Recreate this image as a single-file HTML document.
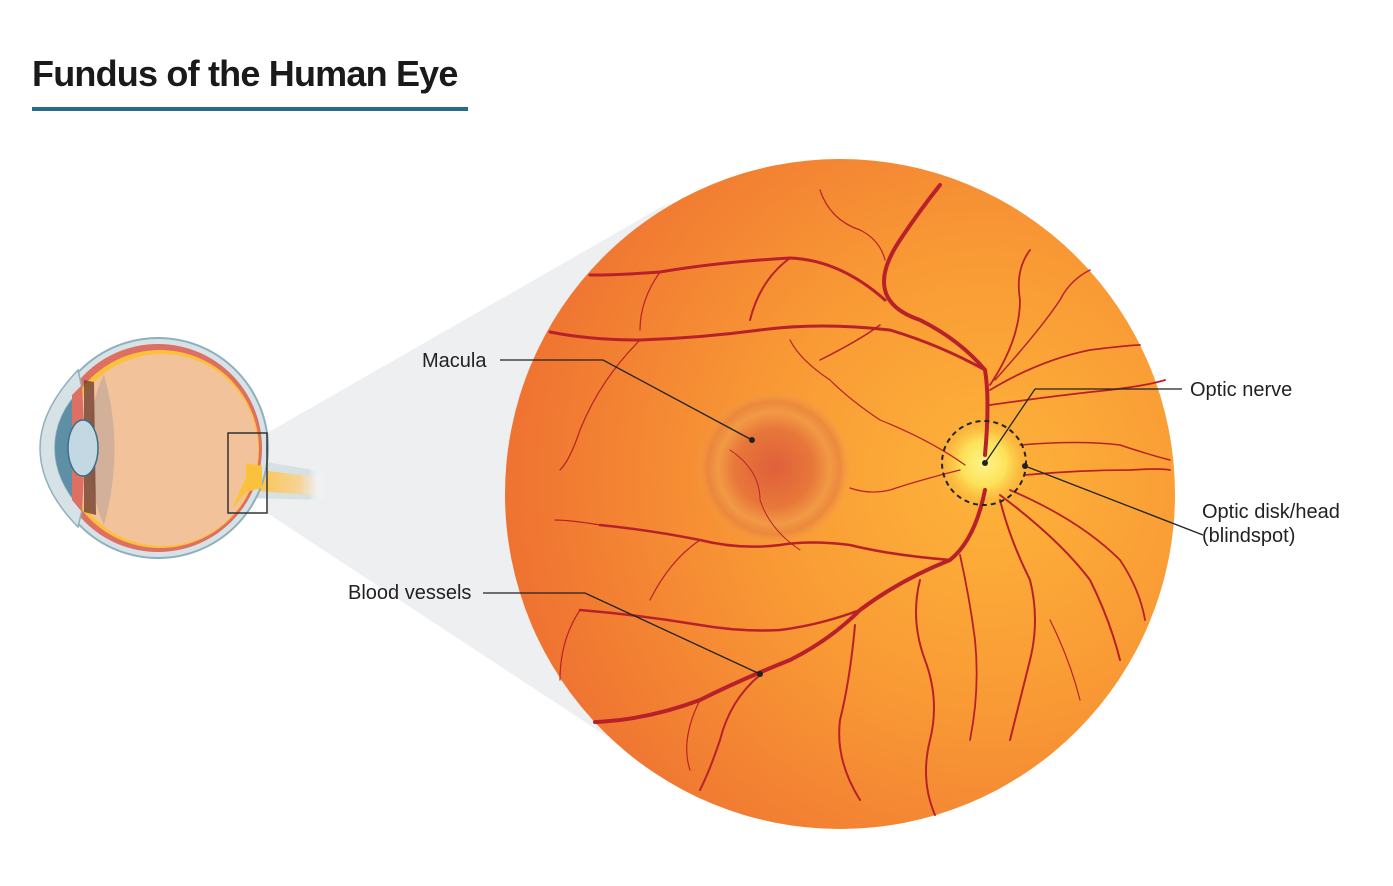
<!DOCTYPE html>
<html><head><style>
body{margin:0;background:#fff;}
svg{display:block}
text{font-family:"Liberation Sans",sans-serif;}
</style></head><body>
<svg width="1393" height="886" viewBox="0 0 1393 886" xmlns="http://www.w3.org/2000/svg">
<defs>
<radialGradient id="fund" cx="0.72" cy="0.48" r="0.75">
<stop offset="0" stop-color="#fdb33a"/>
<stop offset="0.45" stop-color="#f99a35"/>
<stop offset="1" stop-color="#ee6f31"/>
</radialGradient>
<radialGradient id="mac" cx="0.5" cy="0.5" r="0.5">
<stop offset="0" stop-color="#df5f3a"/>
<stop offset="0.5" stop-color="#e8773a"/>
<stop offset="0.72" stop-color="#f29a45"/>
<stop offset="0.85" stop-color="#e9843e" stop-opacity="0.8"/>
<stop offset="1" stop-color="#f5a04a" stop-opacity="0"/>
</radialGradient>
<radialGradient id="disk" cx="0.5" cy="0.5" r="0.5">
<stop offset="0" stop-color="#fdf58a"/>
<stop offset="0.5" stop-color="#fde25a"/>
<stop offset="1" stop-color="#fcc040" stop-opacity="0"/>
</radialGradient>
<linearGradient id="nerve" x1="0" x2="1">
<stop offset="0" stop-color="#fcbf3c"/><stop offset="0.7" stop-color="#f6d49a"/><stop offset="1" stop-color="#fff" stop-opacity="0"/>
</linearGradient>
<linearGradient id="nsh" x1="0" x2="1">
<stop offset="0" stop-color="#d7e1e4"/><stop offset="0.8" stop-color="#d7e1e4"/><stop offset="1" stop-color="#fff" stop-opacity="0"/>
</linearGradient>
</defs>

<text x="32" y="86" font-size="36" font-weight="bold" fill="#1a1a1a" letter-spacing="-0.8">Fundus of the Human Eye</text>
<rect x="32" y="107" width="436" height="4" fill="#2a6a8a"/>

<polygon points="267,433 665,205 620,745 267,513" fill="#eeeff1"/>

<!-- eye -->
<path d="M244,458 L325,472 L325,500 L244,498 Z" fill="url(#nsh)"/>
<path d="M244,468 L325,478 L325,496 L244,490 Z" fill="url(#nerve)"/>
<circle cx="158" cy="448" r="110" fill="#d6e2e6" stroke="#8fb0bd" stroke-width="2"/>
<circle cx="158" cy="448" r="104" fill="#dd6f63"/>
<circle cx="160" cy="449" r="99" fill="#fcc13c"/>
<circle cx="162" cy="450" r="96" fill="#f2c29a"/>
<path d="M104,375 Q125,448 104,525 Q92,500 88,448 Q92,395 104,375Z" fill="#d2b09a"/>
<path d="M84,380 L94,382 L96,515 L84,512Z" fill="#6b3a2a" opacity="0.75"/>
<path d="M78,370 Q40,410 40,448 Q40,488 78,527 L82,510 Q55,480 55,448 Q55,415 82,388Z" fill="#d6e2e6" stroke="#8fb0bd" stroke-width="1.5"/>
<path d="M82,388 Q55,415 55,448 Q55,480 82,510 L80,448Z" fill="#5f8fa4"/>
<path d="M72,395 L82,385 L84,425 L72,430Z M72,470 L84,472 L82,512 L72,500Z" fill="#dd6f63"/>
<ellipse cx="83" cy="448" rx="15" ry="28" fill="#c4d8e3" stroke="#3a6f8a" stroke-width="1.5"/>
<path d="M246,463 L262,466 L262,488 L246,492 Q240,500 232,508 L246,478Z" fill="#fcc13c"/>
<rect x="228" y="433" width="39" height="80" fill="none" stroke="#333" stroke-width="1.5"/>

<!-- fundus -->
<circle cx="840" cy="494" r="335" fill="url(#fund)"/>
<circle cx="774" cy="468" r="78" fill="url(#mac)"/>
<circle cx="984" cy="463" r="45" fill="url(#disk)"/>

<g fill="none" stroke="#b8212a" stroke-linecap="round">
<path d="M985,455 Q990,400 985,370 Q960,340 920,320 Q890,310 885,290 Q880,270 900,240 Q920,210 940,185" stroke-width="4"/>
<path d="M885,300 Q840,260 790,258 Q720,262 660,272 Q620,275 590,275" stroke-width="3"/>
<path d="M790,258 Q760,280 750,320" stroke-width="2"/>
<path d="M985,370 Q940,345 890,330 Q820,322 760,330 Q700,338 640,340 Q590,340 550,332" stroke-width="3"/>
<path d="M880,325 Q860,340 820,360" stroke-width="1.5"/>
<path d="M985,490 Q975,540 950,560 Q900,580 860,610 Q830,640 790,660 Q740,680 700,700 Q660,715 620,720 Q600,722 595,722" stroke-width="4"/>
<path d="M950,560 Q890,555 850,545 Q810,540 780,545 Q740,550 700,540 Q650,530 600,525" stroke-width="2.5"/>
<path d="M860,610 Q820,625 780,630 Q740,632 700,625 Q640,615 580,610" stroke-width="2.5"/>
<path d="M760,675 Q730,700 720,740 Q710,770 700,790" stroke-width="2"/>
<path d="M855,625 Q850,680 840,720 Q835,760 860,800" stroke-width="2"/>
<path d="M920,580 Q910,620 925,660 Q940,700 930,740 Q920,780 935,815" stroke-width="2"/>
<path d="M960,555 Q970,600 975,640 Q980,690 970,740" stroke-width="1.8"/>
<path d="M1000,500 Q1010,540 1030,580 Q1040,620 1030,660 Q1020,700 1010,740" stroke-width="2"/>
<path d="M1000,495 Q1060,540 1090,580 Q1110,620 1120,660" stroke-width="2"/>
<path d="M1010,490 Q1080,520 1120,560 Q1140,590 1145,620" stroke-width="1.8"/>
<path d="M1025,475 Q1080,470 1130,470 Q1160,468 1170,470" stroke-width="1.8"/>
<path d="M1020,445 Q1080,440 1120,445 Q1150,455 1170,460" stroke-width="1.5"/>
<path d="M990,405 Q1060,395 1110,390 Q1150,385 1165,380" stroke-width="1.8"/>
<path d="M990,390 Q1040,360 1090,350 Q1130,345 1140,345" stroke-width="1.8"/>
<path d="M990,385 Q1020,340 1020,300 Q1015,270 1030,250" stroke-width="1.8"/>
<path d="M995,380 Q1040,330 1060,300 Q1070,280 1090,270" stroke-width="1.5"/>
<path d="M965,465 Q930,440 880,420 Q850,400 830,380 Q800,360 790,340" stroke-width="1.2"/>
<path d="M960,470 Q920,480 890,490 Q870,495 850,488" stroke-width="1.2"/>
<path d="M660,272 Q640,300 640,330" stroke-width="1.2"/>
<path d="M700,540 Q670,560 650,600" stroke-width="1.2"/>
<path d="M580,610 Q560,640 560,680" stroke-width="1.2"/>
<path d="M600,525 Q570,520 555,520" stroke-width="1.2"/>
<path d="M640,340 Q600,380 580,430 Q570,460 560,470" stroke-width="1.2"/>
<path d="M820,190 Q830,220 860,230 Q880,240 885,260" stroke-width="1.2"/>
<path d="M700,700 Q680,740 690,770" stroke-width="1.2"/>
<path d="M1050,620 Q1070,660 1080,700" stroke-width="1.2"/>
<path d="M730,450 Q760,470 760,500 Q770,530 800,550" stroke-width="1"/>
</g>
<circle cx="984" cy="463" r="42" fill="none" stroke="#222" stroke-width="2" stroke-dasharray="5,4"/>

<g stroke="#222" stroke-width="1.3" fill="none">
<path d="M500,360 L603,360 L752,440"/>
<path d="M483,593 L585,593 L760,674"/>
<path d="M1182,389 L1035,389 L985,463"/>
<path d="M1203,535 L1025,466"/>
</g>
<g fill="#222">
<circle cx="752" cy="440" r="3"/><circle cx="760" cy="674" r="3"/><circle cx="985" cy="463" r="3"/><circle cx="1025" cy="466" r="3"/>
</g>
<g font-size="20" fill="#222">
<text x="422" y="367">Macula</text>
<text x="348" y="599">Blood vessels</text>
<text x="1190" y="396">Optic nerve</text>
<text x="1202" y="518">Optic disk/head</text>
<text x="1202" y="542">(blindspot)</text>
</g>
</svg>
</body></html>
